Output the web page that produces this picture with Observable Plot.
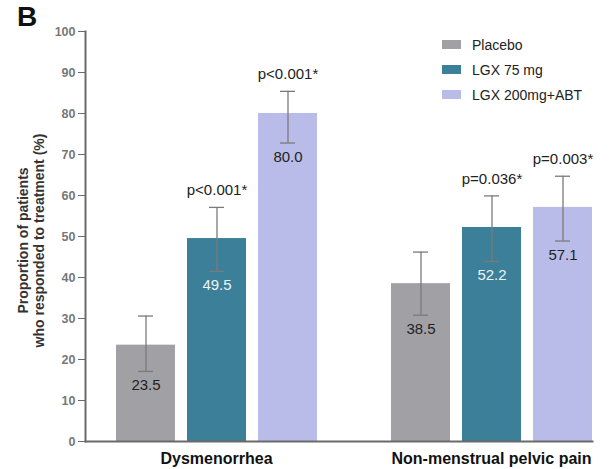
<!DOCTYPE html>
<html><head><meta charset="utf-8">
<script src="https://cdn.jsdelivr.net/npm/d3@7"></script>
<script src="https://cdn.jsdelivr.net/npm/@observablehq/plot@0.6"></script>
<style>
body{margin:0;background:#fff;font-family:"Liberation Sans",Arial,sans-serif;}
#wrap{position:relative;width:613px;height:469px;overflow:hidden;}
#panel{position:absolute;left:17px;top:3px;font-size:28px;font-weight:bold;line-height:1;color:#111;}
#legend{position:absolute;left:442px;top:32px;}
#legend .lg-swatch{height:25px !important;padding-bottom:0 !important;margin:0 !important;display:flex;align-items:center;}
#legend .lg-swatch svg{margin-right:11px !important;}
#legend > div{margin:0 !important;min-height:0 !important;}
</style></head><body>
<div id="wrap"><div id="chart"></div><div id="panel">B</div><div id="legend"></div></div>
<script>
const categories = ["Dysmenorrhea", "Non-menstrual pelvic pain"];
const series = ["Placebo", "LGX 75 mg", "LGX 200mg+ABT"];
const colors = ["#a1a1a5", "#3b7f98", "#b9bce8"];
const dysmenorrheaValues = [23.5, 49.5, 80.0];
const pelvicPainValues = [38.5, 52.2, 57.1];
const dysmenorrheaLower = [17.1, 41.5, 72.8];
const dysmenorrheaUpper = [30.6, 57.1, 85.4];
const pelvicPainLower = [30.8, 43.9, 48.9];
const pelvicPainUpper = [46.2, 59.9, 64.7];
const dysmenorrheaP = [null, "p<0.001*", "p<0.001*"];
const pelvicPainP = [null, "p=0.036*", "p=0.003*"];
const yTicks = [0, 10, 20, 30, 40, 50, 60, 70, 80, 90, 100];
const yLabel = "Proportion of patients\nwho responded to treatment (%)";

const values = [dysmenorrheaValues, pelvicPainValues];
const lower = [dysmenorrheaLower, pelvicPainLower];
const upper = [dysmenorrheaUpper, pelvicPainUpper];
const pvals = [dysmenorrheaP, pelvicPainP];
const rows = categories.flatMap((c, i) => series.map((s, j) => ({
  category: c, series: s, value: values[i][j], lo: lower[i][j], hi: upper[i][j], p: pvals[i][j]
})));

const axisColor = "#6a6a6a";
const font = "Liberation Sans, Arial, sans-serif";
const chart = Plot.plot({
  width: 613, height: 469,
  marginLeft: 85, marginRight: 0, marginTop: 31, marginBottom: 28,
  style: {fontFamily: font, background: "white", overflow: "visible"},
  fx: {domain: categories, paddingInner: 0.1564, paddingOuter: 0.0382, align: 0, label: null},
  x: {domain: series, paddingInner: 0.175, paddingOuter: 0.21, align: 1, axis: null},
  y: {domain: [0, 100]},
  color: {domain: series, range: colors},
  marks: [
    Plot.barY(rows, {fx: "category", x: "series", y: "value", fill: "series"}),
    Plot.ruleX(rows, {fx: "category", x: "series", y1: "lo", y2: "hi", stroke: "#7a7a7a", strokeWidth: 1.3}),
    Plot.tickY(rows, {fx: "category", x: "series", y: "hi", insetLeft: 22, insetRight: 22, stroke: "#7a7a7a", strokeWidth: 1.3}),
    Plot.tickY(rows, {fx: "category", x: "series", y: "lo", insetLeft: 22, insetRight: 22, stroke: "#7a7a7a", strokeWidth: 1.3}),
    Plot.text(rows, {filter: d => d.series !== series[1], fx: "category", x: "series", y: "lo", text: d => d.value.toFixed(1), dy: 14, fontSize: 15, fill: "#222"}),
    Plot.text(rows, {filter: d => d.series === series[1], fx: "category", x: "series", y: "lo", text: d => d.value.toFixed(1), dy: 14, fontSize: 15, fill: "#eef3f7"}),
    Plot.text(rows, {filter: d => d.p, fx: "category", x: "series", y: "hi", text: "p", dy: -17, fontSize: 15, fill: "#222"}),
    Plot.frame({anchor: "bottom", facet: "super", stroke: axisColor, strokeWidth: 2}),
    Plot.frame({anchor: "left", facet: "super", stroke: axisColor, strokeWidth: 2}),
    Plot.axisY({ticks: yTicks, tickSize: 7, tickPadding: 3, stroke: axisColor, fill: "#777", fontWeight: "bold", fontSize: 12.5, label: null}),
    Plot.axisFx({anchor: "bottom", tickSize: 0, tickPadding: 11, dx: 15, fontWeight: "bold", fontSize: 16, fill: "#111", label: null}),
    Plot.text([{label: yLabel, category: categories[0]}], {fx: "category", frameAnchor: "left", text: "label", rotate: -90, dx: -55, dy: 4, fontWeight: "bold", fontSize: 14, lineHeight: 1.15, fill: "#333", lineAnchor: "middle", textAnchor: "middle"})
  ]
});
document.getElementById("chart").appendChild(chart);

const legend = Plot.legend({
  color: {domain: series, range: colors},
  legend: "swatches", columns: 1, swatchWidth: 19, swatchHeight: 9,
  className: "lg",
  style: {fontSize: "14px", fontFamily: font, color: "#222"}
});
document.getElementById("legend").appendChild(legend);
</script>
</body></html>
